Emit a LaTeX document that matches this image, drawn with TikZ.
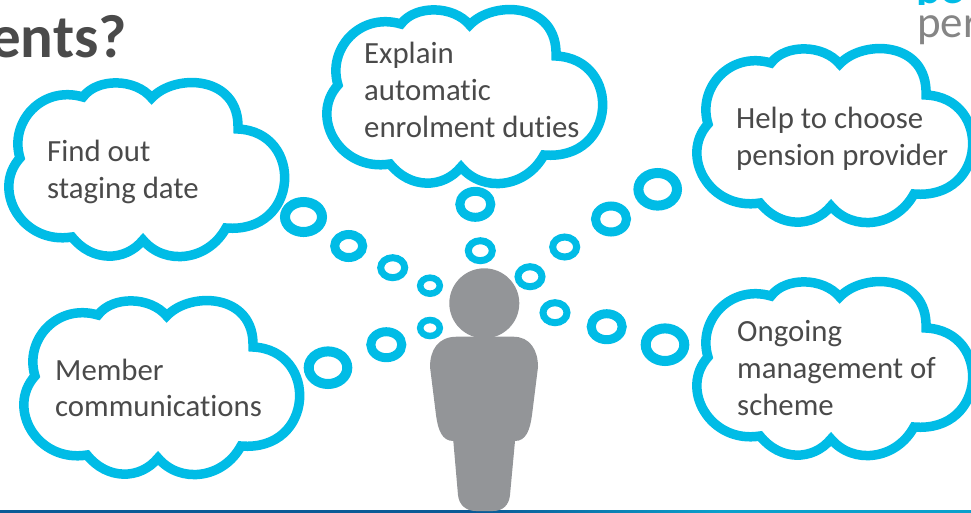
\documentclass[tikz,border=0pt]{standalone}
\usepackage{fontspec}
\setmainfont[Ligatures=NoCommon]{Carlito}
\definecolor{cloudblue}{HTML}{00BCE6}
\definecolor{bodygrey}{HTML}{939598}
\definecolor{textgrey}{HTML}{4A4A4A}
\definecolor{logogrey}{HTML}{858585}
\definecolor{ruleblue}{HTML}{0B5A96}
\definecolor{ruleteal}{HTML}{0AA0CC}
\tikzset{
  thought/.style={draw=cloudblue,line width=9.5pt,miter limit=6},
  ringa/.style={draw=cloudblue,line width=6.5pt},
  ringb/.style={draw=cloudblue,line width=7pt},
  ringc/.style={draw=cloudblue,line width=9pt},
  ringd/.style={draw=cloudblue,line width=10pt},
  label/.style={anchor=base west,inner sep=0pt,text=textgrey,font=\fontsize{30.8}{30.8}\selectfont},
  cloud/.pic={
    \draw [thought] (20,158) .. controls (9,122) and (42,85) .. (83,97)
      .. controls (97,78) and (135,78) .. (151.7,98)
      .. controls (175,73) and (240,75) .. (238,129)
      .. controls (304,132) and (300,234) .. (226,228)
      .. controls (208,261) and (165,266) .. (143,240)
      .. controls (125,262) and (92,262) .. (72,237)
      .. controls (22,245) and (-9,190) .. cycle;
  }
}
\begin{document}
\begin{tikzpicture}[x=1pt,y=-1pt]
	\useasboundingbox (0,0) rectangle (971,512);
	\clip (0,0) rectangle (971,512);
	% heading and logo, both cut by the frame
	\node [anchor=base east,inner sep=0pt,text=textgrey,font=\fontsize{61}{61}\selectfont\bfseries] (heading) at (127,57) {ents?};
	\begin{scope}
		\clip (900,0) rectangle (971,4);
		\node [anchor=base west,inner sep=0pt,text=cloudblue,font=\fontsize{46}{46}\selectfont\bfseries] (logotop) at (916,3) {pe};
	\end{scope}
	\node [anchor=base west,inner sep=0pt,text=logogrey,font=\fontsize{45}{45}\selectfont] (logobottom) at (917,37) {per};
	% clouds
	\pic at (0,0) {cloud};
	\pic at (318,-73) {cloud};
	\pic at (688,-34) {cloud};
	\pic at (15,218) {cloud};
	\pic at (688,199) {cloud};
	% bubbles
	\draw [ringd] (303.5,217) ellipse (18.5 and 15);
	\draw [ringc] (348.7,246) ellipse (14 and 11.5);
	\draw [ringb] (392.7,267.7) ellipse (12 and 10);
	\draw [ringa] (430,285.7) ellipse (9.8 and 8);
	\draw [ringc] (475.3,204.3) ellipse (15.5 and 13);
	\draw [ringb] (480.3,250.7) ellipse (12 and 10);
	\draw [ringb] (530,276.7) ellipse (12 and 10);
	\draw [ringb] (564.7,247) ellipse (12 and 10);
	\draw [ringc] (611,219) ellipse (15.5 and 13);
	\draw [ringd] (657.7,189.3) ellipse (19.3 and 16.3);
	\draw [ringb] (555,312.7) ellipse (12 and 10);
	\draw [ringc] (606.7,326.7) ellipse (15.5 and 13);
	\draw [ringd] (665,344.7) ellipse (19.3 and 16.3);
	\draw [ringa] (430,328) ellipse (9.8 and 8);
	\draw [ringc] (386.3,344.7) ellipse (15.5 and 13);
	\draw [ringd] (328,367.7) ellipse (19.3 and 16.3);
	% bottom rule
	\fill [ruleblue] (0,510) rectangle (480,513);
	\shade [left color=ruleblue,right color=ruleteal] (479.5,510) rectangle (720.5,513);
	\fill [ruleteal] (720,510) rectangle (971,513);
	% person
	\fill [bodygrey] (484.3,303.3) circle (35);
	\fill [bodygrey] (456.7,336.7) -- (513.3,336.7)
	  .. controls (530,336.7) and (538,350) .. (538,367)
	  -- (532,415) .. controls (530,430) and (526,441) .. (515,441)
	  -- (510,495) .. controls (509,505) and (503,511) .. (493,511)
	  -- (476,511) .. controls (466,511) and (459,505) .. (458,495)
	  -- (453.3,441) .. controls (442,441) and (438,430) .. (436,415)
	  -- (430,367) .. controls (430,350) and (438,336.7) .. cycle;
	% texts
	\node [label] (findout) at (47,161) {Find out};
	\node [label] (staging) at (47,198) {staging date};
	\node [label] (explain) at (364,63) {Explain};
	\node [label] (automatic) at (364,100) {automatic};
	\node [label] (duties) at (364,137) {enrolment duties};
	\node [label] (helpto) at (736,128) {Help to choose};
	\node [label] (provider) at (736,165) {pension provider};
	\node [label] (member) at (55,380) {Member};
	\node [label] (communications) at (55,416) {communications};
	\node [label] (ongoing) at (737,341) {Ongoing};
	\node [label] (management) at (737,378) {management of};
	\node [label] (scheme) at (737,415) {scheme};
\end{tikzpicture}
\end{document}
